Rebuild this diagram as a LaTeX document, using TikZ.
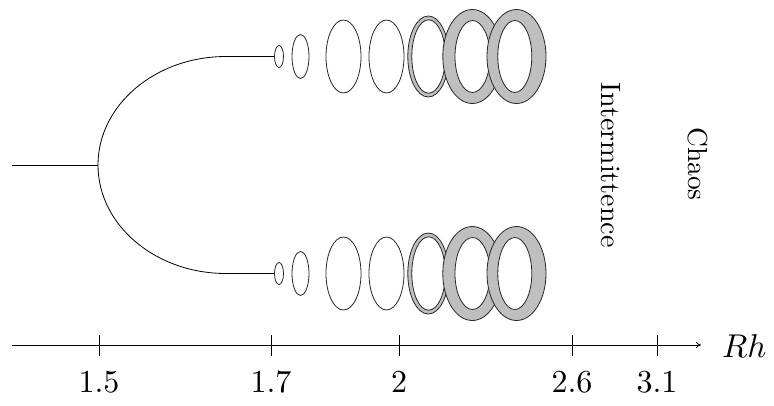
\documentclass[tikz,border=0pt]{standalone}
\usetikzlibrary{arrows.meta}
\begin{document}
\begin{tikzpicture}[x=1pt,y=-1pt,
  thinline/.style={line width=0.8pt,black},
  orbit/.style={line width=0.8pt,draw=black!85},
  ringfill/.style={fill=gray!50},
  ticklab/.style={anchor=base,inner sep=0pt},
  regime/.style={anchor=base,rotate=-90,inner sep=0pt}]
\useasboundingbox (0,0) rectangle (774,405);
% bifurcation branches
\coordinate (start) at (12,165);
\coordinate (split) at (98,165);
\coordinate (topend) at (226,56.5);
\coordinate (botend) at (226,273.5);
\coordinate (topE) at (274.5,56.5);
\coordinate (botE) at (274.5,273.5);
\draw[thinline] (start) -- (split);
\draw[thinline] (split) .. controls (98,105.1) and (155.3,56.5) .. (topend) -- (topE);
\draw[thinline] (split) .. controls (98,224.9) and (155.3,273.5) .. (botend) -- (botE);
% orbits (tori)
\foreach \cy in {56.5,273.5}{
  \draw[orbit] (279,\cy) ellipse (4.5 and 11);
  \draw[orbit] (300.5,\cy) ellipse (8.5 and 22);
  \draw[orbit] (343.5,\cy) ellipse (17.5 and 36.5);
  \draw[orbit] (386.5,\cy) ellipse (17.5 and 36.5);
  % thin ring
  \filldraw[orbit,ringfill] (428.3,\cy) ellipse (20.5 and 40.5);
  \filldraw[orbit,fill=white] (428.6,\cy) ellipse (16.8 and 36.7);
  % thick rings
  \filldraw[orbit,ringfill] (472.3,\cy) ellipse (29.5 and 47);
  \filldraw[orbit,fill=white] (472.5,\cy) ellipse (17.5 and 36);
  \filldraw[orbit,ringfill] (516.5,\cy) ellipse (29.5 and 47);
  \filldraw[orbit,fill=white] (514.8,\cy) ellipse (17 and 36);
}
% axis
\coordinate (axL) at (12,345);
\coordinate (axR) at (701,345);
\draw[thinline,-{To[length=5pt,width=6pt]}] (axL) -- (axR);
\foreach \x/\lab/\nm in {99/1.5/a,271/1.7/b,399/2/c,572/2.6/d,657/3.1/e}{
  \draw[thinline] (\x,335) -- (\x,356);
  \node[ticklab] (lab\nm) at (\x,392) {\scalebox{3.2}{\lab}};
}
\node[anchor=base west,inner sep=0pt] (rh) at (722,357) {\scalebox{3.3}{$Rh$}};
% regimes
\node[regime] (inter) at (601,165) {\scalebox{2.8}{Intermittence}};
\node[regime] (chaos) at (688,164) {\scalebox{2.75}{Chaos}};
\end{tikzpicture}
\end{document}
